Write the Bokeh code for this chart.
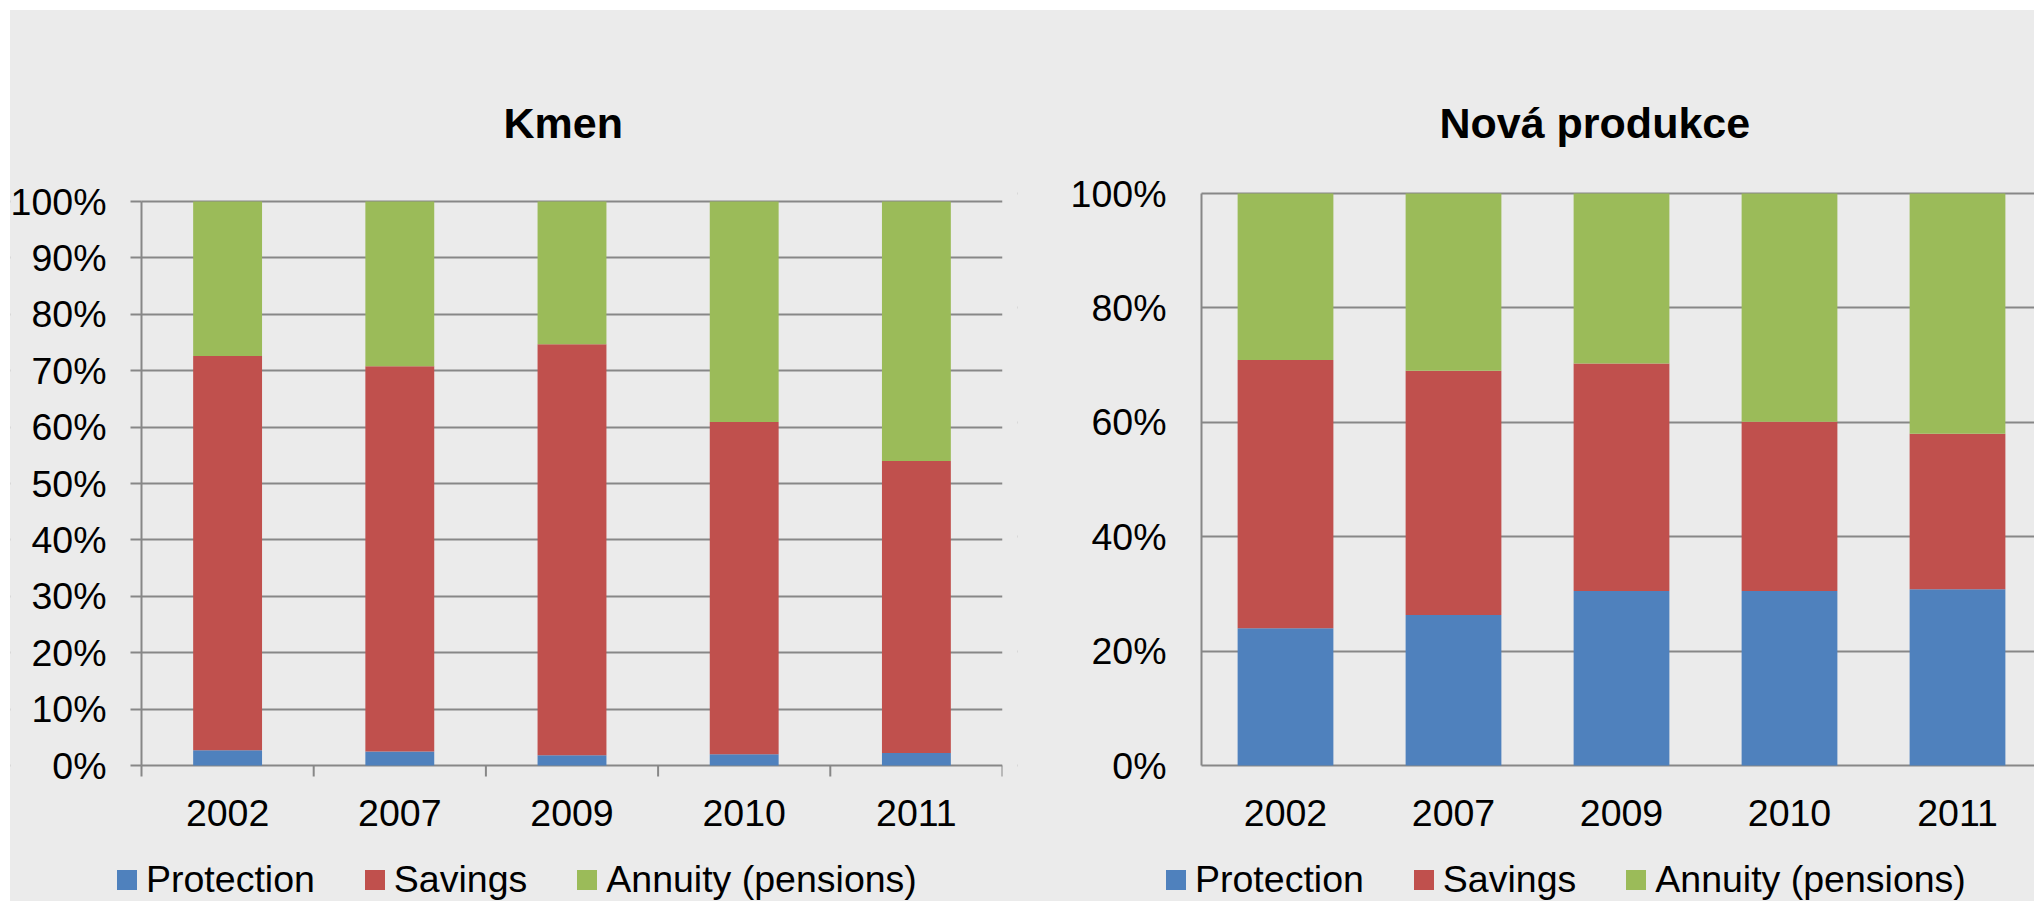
from bokeh.plotting import figure
from bokeh.models import (Range1d, FixedTicker, PrintfTickFormatter, Spacer,
                          ColumnDataSource, BoxAnnotation)
from bokeh.layouts import row, column
from bokeh.core.properties import value
from bokeh.embed import file_html
from bokeh.resources import INLINE

years = ["2002", "2007", "2009", "2010", "2011"]
series = ["Protection", "Savings", "Annuity (pensions)"]
colors = ["#4F81BD", "#C0504D", "#9BBB59"]

kmen_protection = [2.7, 2.5, 1.8, 2.0, 2.2]
kmen_savings = [69.9, 68.3, 72.9, 58.9, 51.8]
kmen_annuity = [27.4, 29.2, 25.3, 39.1, 46.0]

nova_protection = [24.0, 26.3, 30.5, 30.5, 30.8]
nova_savings = [46.9, 42.7, 39.8, 29.6, 27.2]
nova_annuity = [29.1, 31.0, 29.7, 39.9, 42.0]

kmen_ticks = list(range(0, 101, 10))
nova_ticks = list(range(0, 101, 20))

BG = "#EBEBEB"
GRID = "#878787"
FONT = "Liberation Sans"
FRAME_TOP = 150      # px from figure top to frame top
FIG_H = 891
AXIS_PX = 765 - 10   # px from figure top to the 0% line


def make_chart(title, prot, sav, ann, yticks, width, axis_px, mb_right, top_px,
               bar_width, cat_px, x_ticks, y_tick_out, y_standoff, title_offset,
               legend_x):
    n = len(years)
    xs = [i + 0.5 for i in range(n)]
    src = ColumnDataSource(dict(x=xs, Protection=prot, Savings=sav,
                                **{"Annuity (pensions)": ann}))
    # pixel geometry -> ranges
    ppu = (AXIS_PX - top_px) / 100.0
    y_end = 100 + (top_px - FRAME_TOP) / ppu
    y_start = -(FIG_H - AXIS_PX) / ppu
    x_start = -axis_px / cat_px
    x_end = (width - mb_right - axis_px) / cat_px

    p = figure(width=width, height=FIG_H, output_backend="svg", toolbar_location=None,
               x_range=Range1d(x_start, x_end), y_range=Range1d(y_start, y_end),
               x_axis_location=None,
               min_border_left=0, min_border_right=mb_right,
               min_border_top=FRAME_TOP, min_border_bottom=0,
               background_fill_color=BG, border_fill_color=BG,
               outline_line_color=None, title=title)

    # hide the grid where the tick labels sit (left of the value axis)
    p.add_layout(BoxAnnotation(left=x_start, right=0, fill_color=BG, fill_alpha=1,
                               line_color=None, level="underlay"))

    p.vbar_stack(series, x="x", width=bar_width, color=colors, line_color=None,
                 source=src, legend_label=series)

    # category labels under the 0% line
    p.text(x=xs, y=0, text=years, text_font=value(FONT), text_font_size="37.5px",
           text_color="black", text_align="center", text_baseline="alphabetic",
           y_offset=47)
    if x_ticks:
        bnd = list(range(n + 1))
        p.segment(x0=bnd, y0=0, x1=bnd, y1=-11 / ppu, line_color=GRID, line_width=2)

    p.title.text_font = FONT
    p.title.text_font_size = "43px"
    p.title.text_font_style = "bold"
    p.title.text_color = "black"
    p.title.align = "left"
    p.title.offset = title_offset
    p.title.standoff = 28

    ya = p.yaxis[0]
    ya.fixed_location = 0
    ya.ticker = FixedTicker(ticks=yticks, minor_ticks=[])
    ya.formatter = PrintfTickFormatter(format="%d%%")
    ya.bounds = (yticks[0], yticks[-1])
    ya.major_tick_out = y_tick_out
    ya.major_tick_in = 0
    ya.major_tick_line_color = GRID
    ya.major_tick_line_width = 2
    ya.minor_tick_line_color = None
    ya.axis_line_color = GRID
    ya.axis_line_width = 2
    ya.major_label_text_font = FONT
    ya.major_label_text_font_size = "37.5px"
    ya.major_label_text_color = "black"
    ya.major_label_standoff = y_standoff

    p.xgrid.visible = False
    p.ygrid.ticker = FixedTicker(ticks=yticks, minor_ticks=[])
    p.ygrid.grid_line_color = GRID
    p.ygrid.grid_line_width = 2

    leg = p.legend[0]
    leg.orientation = "horizontal"
    leg.location = (legend_x, 0)
    leg.background_fill_alpha = 0
    leg.border_line_color = None
    leg.padding = 0
    leg.margin = 0
    leg.spacing = 47
    leg.glyph_width = 25
    leg.glyph_height = 25
    leg.label_standoff = 7
    leg.label_height = 25
    leg.label_text_font = FONT
    leg.label_text_font_size = "37.5px"
    leg.label_text_color = "black"
    return p


p1 = make_chart("Kmen", kmen_protection, kmen_savings, kmen_annuity, kmen_ticks,
                width=1007, axis_px=131, mb_right=15, top_px=201 - 10,
                bar_width=0.4, cat_px=861 / 5, x_ticks=True, y_tick_out=11, y_standoff=24,
                title_offset=493, legend_x=104)
p2 = make_chart("Nová produkce", nova_protection, nova_savings, nova_annuity, nova_ticks,
                width=1017, axis_px=184, mb_right=0, top_px=193 - 10,
                bar_width=0.57, cat_px=168, x_ticks=False, y_tick_out=0, y_standoff=35,
                title_offset=422, legend_x=146)

charts = row(p1, p2, styles={"background-color": BG})
layout = column(Spacer(height=10), row(Spacer(width=10), charts))
open("out.html", "w").write(file_html(layout, INLINE))
